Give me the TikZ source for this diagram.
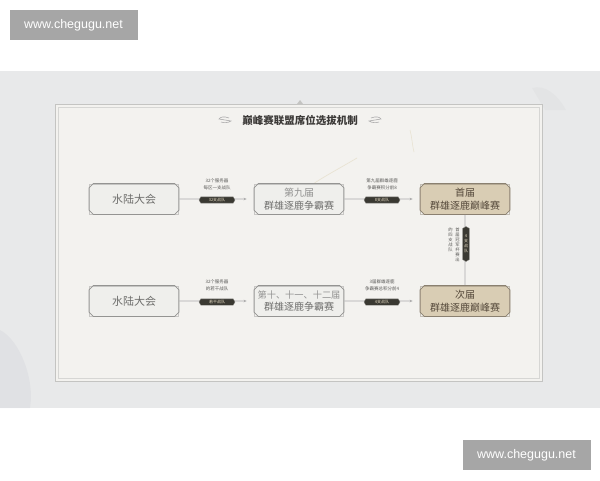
\documentclass[tikz,border=0pt]{standalone}
\usepackage{fontspec}
\setmainfont{Noto Sans CJK SC}
\newfontfamily\wmfont{Liberation Sans}
\usetikzlibrary{shapes.symbols,shapes.misc,arrows.meta}
\definecolor{bandc}{HTML}{E8E9EA}
\definecolor{panelfill}{HTML}{F3F2EF}
\definecolor{panelline}{HTML}{C4C4C2}
\definecolor{boxfill}{HTML}{EFEFEC}
\definecolor{boxline}{HTML}{949492}
\definecolor{boxtext}{HTML}{6E6E6C}
\definecolor{goldfill}{HTML}{D9CDB4}
\definecolor{goldline}{HTML}{8A8070}
\definecolor{goldtext}{HTML}{54483A}
\definecolor{pillfill}{HTML}{3A3932}
\definecolor{pilltext}{HTML}{E6DCC4}
\definecolor{lbltext}{HTML}{5A5A58}
\definecolor{connc}{HTML}{ABABAB}
\definecolor{titlec}{HTML}{3C3A38}
\definecolor{wmgray}{HTML}{A6A6A6}
\definecolor{veinc}{HTML}{D6C79E}
\begin{document}
\begin{tikzpicture}[x=1pt,y=-1pt,
  box/.style={shape=chamfered rectangle, chamfered rectangle xsep=2.2pt, chamfered rectangle ysep=2.2pt,
    draw=boxline, line width=0.8pt, fill=boxfill,
    minimum width=90pt, minimum height=31pt, inner sep=0pt, align=center,
    font=\fontsize{10}{12.5}\selectfont, text=boxtext},
  goldbox/.style={box, draw=goldline, fill=goldfill, text=goldtext},
  halo/.style={draw=#1, line width=0.5pt, opacity=0.45},
  pill/.style={shape=signal, signal to=east and west, signal pointer angle=120,
    fill=pillfill, draw=pillfill!60!white, line width=0.3pt, text=pilltext,
    font=\fontsize{4}{4}\selectfont, inner xsep=2pt, inner ysep=1.3pt, minimum width=36pt},
  vpill/.style={shape=signal, signal to=north and south, signal pointer angle=120,
    fill=pillfill, draw=pillfill!60!white, line width=0.3pt, text=pilltext,
    font=\fontsize{4}{5}\selectfont, inner xsep=1.3pt, inner ysep=2pt, minimum height=35pt, align=center},
  lbl/.style={font=\fontsize{4.5}{7}\selectfont, text=lbltext, align=center, inner sep=0pt},
  vlbl/.style={font=\fontsize{4.3}{5}\selectfont, text=lbltext, align=center, inner sep=0pt},
  conn/.style={draw=connc, line width=0.6pt, -{Stealth[length=3pt,width=2.6pt]}, shorten >=7pt},
  connv/.style={draw=connc, line width=0.6pt},
  wm/.style={fill=wmgray, text=white, font=\wmfont\fontsize{12.5}{14}\selectfont,
    minimum width=128pt, minimum height=30pt, inner sep=0pt}
]
\useasboundingbox (0,0) rectangle (600,480);
\fill[white] (0,0) rectangle (600,480);
% image band
\fill[bandc] (0,71) rectangle (600,408);
\fill[blue!15!gray, opacity=0.06] (0,330) .. controls (20,340) and (35,380) .. (30,408) -- (0,408) -- cycle;
\fill[gray, opacity=0.04] (532,88) .. controls (545,84) and (558,95) .. (566,110) -- (545,110) -- cycle;
% panel
\draw[panelline, line width=0.5pt, fill=panelfill] (55,104) rectangle (542,381);
\draw[panelline!70!white, line width=0.4pt] (58,107) rectangle (539,378);
\fill[panelline] (297,104) -- (300,100) -- (303,104) -- cycle;
% faint marble veins
\draw[veinc, opacity=0.35, line width=0.7pt] (357,158) .. controls (340,168) and (325,176) .. (313,184);
\draw[veinc, opacity=0.35, line width=0.6pt] (410,130) .. controls (412,137) and (412,144) .. (414,152);
% title
\node[font=\bfseries\fontsize{10.5}{12}\selectfont, text=titlec, inner sep=0pt] (title) at (300,120) {巅峰赛联盟席位选拔机制};
\draw[connc, line width=0.6pt] (229,118) .. controls (224,116) and (220,117) .. (219,119) -- (231,121)
  .. controls (228,123) and (224,123) .. (221,122);
\draw[connc, line width=0.6pt] (371,118) .. controls (376,116) and (380,117) .. (381,119) -- (369,121)
  .. controls (372,123) and (376,123) .. (379,122);
% boxes
\node[box, font=\fontsize{11}{13}\selectfont] (a1) at (134,199) {水陆大会};
\node[box] (a2) at (299,199) {{\color{boxtext!75!white}第九届}\\群雄逐鹿争霸赛};
\node[goldbox] (a3) at (465,199) {首届\\群雄逐鹿巅峰赛};
\node[box, font=\fontsize{11}{13}\selectfont] (b1) at (134,301) {水陆大会};
\node[box] (b2) at (299,301) {{\fontsize{9.2}{11}\selectfont\color{boxtext!75!white}第十、十一、十二届}\\群雄逐鹿争霸赛};
\node[goldbox] (b3) at (465,301) {次届\\群雄逐鹿巅峰赛};
\foreach \n/\c in {a1/boxline,a2/boxline,a3/goldline,b1/boxline,b2/boxline,b3/goldline}
  \draw[halo=\c] ([shift={(-1.6,-1.6)}]\n.north west) rectangle ([shift={(1.6,1.6)}]\n.south east);
% connectors
\draw[conn] (a1) -- (a2);
\draw[conn] (a2) -- (a3);
\draw[conn] (b1) -- (b2);
\draw[conn] (b2) -- (b3);
\draw[connv] (a3) -- (b3);
% labels and pills
\node[lbl] (la1) at (217,184) {32个服务器\\每区一支战队};
\node[pill] (pa1) at (217,200) {32支战队};
\node[lbl] (la2) at (382,184) {第九届群雄逐鹿\\争霸赛积分前8};
\node[pill] (pa2) at (382,200) {8支战队};
\node[lbl] (lb1) at (217,285) {32个服务器\\的若干战队};
\node[pill] (pb1) at (217,302) {若干战队};
\node[lbl] (lb2) at (382,285) {3届群雄逐鹿\\争霸赛总积分前4};
\node[pill] (pb2) at (382,302) {4支战队};
\node[vpill] (pv) at (466,244) {4\\支\\战\\队};
\node[vlbl] (lv1) at (457.5,244.5) {首\\届\\冠\\军\\杯\\赛\\出};
\node[vlbl] (lv2) at (450.5,239.5) {的\\四\\支\\战\\队};
% watermarks
\node[wm] (wm1) at (73.5,25) {www.chegugu.net};
\node[wm] (wm2) at (526.5,455) {www.chegugu.net};
\end{tikzpicture}
\end{document}
